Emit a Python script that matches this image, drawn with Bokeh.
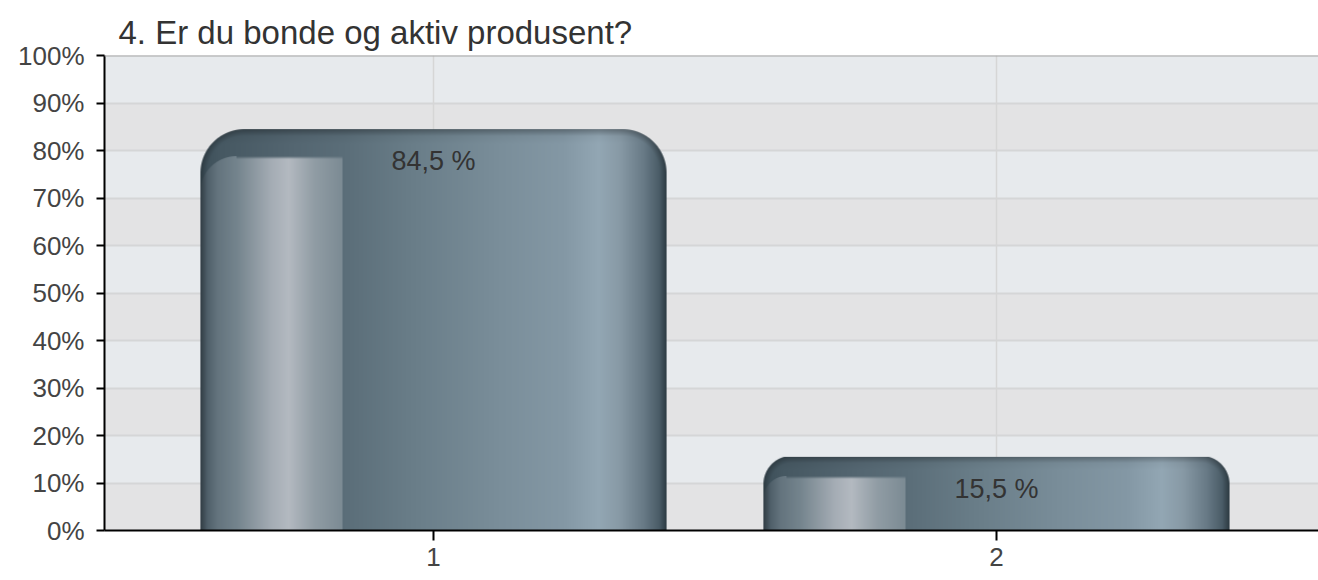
import numpy as np
from bokeh.plotting import figure
from bokeh.models import Range1d, FixedTicker, Span
from bokeh.core.properties import value
from bokeh.embed import file_html
from bokeh.resources import INLINE

# ---------------- data ----------------
title_text = "4. Er du bonde og aktiv produsent?"
categories = [1, 2]
category_labels = ["1", "2"]
percentages = [84.5, 15.5]
bar_labels = ["84,5 %", "15,5 %"]
y_ticks = [0, 10, 20, 30, 40, 50, 60, 70, 80, 90, 100]
y_tick_labels = ["0%", "10%", "20%", "30%", "40%", "50%", "60%", "70%", "80%", "90%", "100%"]

# ---------------- layout ----------------
FONT = "Liberation Sans"
FIG_W, FIG_H = 1318, 580
BORDER_L, BORDER_T, BORDER_B = 104, 55, 50
X0, X1 = 0.4156, 2.572
BAR_W = 0.828

frame_w = FIG_W - BORDER_L
frame_h = FIG_H - BORDER_T - BORDER_B
px_per_x = frame_w / (X1 - X0)
px_per_y = frame_h / 100.0


def interp_profile(f, stops):
    pos = np.array([s[0] for s in stops])
    cols = np.array([s[1] for s in stops], dtype=float)
    out = np.empty(f.shape + (3,))
    for c in range(3):
        out[..., c] = np.interp(f, pos, cols[:, c])
    return out


OUTER = [
    (0.00, (60, 78, 88)),
    (0.04, (70, 88, 98)),
    (0.20, (84, 102, 113)),
    (0.31, (91, 110, 121)),
    (0.45, (105, 125, 136)),
    (0.64, (122, 142, 154)),
    (0.78, (132, 152, 165)),
    (0.855, (147, 167, 180)),
    (0.90, (136, 154, 166)),
    (0.95, (105, 123, 135)),
    (1.00, (60, 78, 88)),
]
INNER = [
    (0.00, (66, 82, 92)),
    (0.12, (100, 116, 126)),
    (0.26, (117, 133, 142)),
    (0.50, (165, 173, 181)),
    (0.62, (180, 186, 193)),
    (0.80, (145, 157, 165)),
    (1.00, (124, 139, 148)),
]


def bar_image(wpx, hpx):
    W = max(2, int(round(wpx)))
    H = max(2, int(round(hpx)))
    X, Y = np.meshgrid(np.arange(W) + 0.5, np.arange(H) + 0.5)
    f = X / W
    rgb = interp_profile(f, OUTER)

    R = min(44.0, 0.38 * H)
    alpha = np.ones((H, W))
    dist_edge = np.minimum(np.minimum(X, W - X), Y)
    for cx in (R, W - R):
        side = (X < R) if cx == R else (X > W - R)
        region = side & (Y < R)
        d = np.sqrt((X - cx) ** 2 + (Y - R) ** 2)
        alpha[region] = np.clip(R - d[region] + 0.5, 0, 1)
        dist_edge[region] = np.maximum(R - d[region], 0)

    # inner highlight panel
    it = min(27.0, 0.27 * H)
    iR = min(36.0, 0.82 * R)
    iw = 0.305 * W
    inner_rgb = interp_profile(np.clip(X / iw, 0, 1), INNER)
    cov = ((X < iw) & (Y > it)).astype(float)
    corner = (X < iR) & (Y < it + iR) & (Y > it - 1)
    dc = np.sqrt((X - iR) ** 2 + (Y - (it + iR)) ** 2)
    cov[corner] = np.clip(iR - dc[corner] + 0.5, 0, 1)
    soft_top = (X < iw) & (Y > it) & (Y < it + 3) & ~corner
    cov[soft_top] = np.clip((Y[soft_top] - it) / 3.0, 0, 1)
    rgb = rgb * (1 - cov[..., None]) + inner_rgb * cov[..., None]

    # dark rim around the outline and slight top shading
    shade = 1 - 0.25 * np.clip(1 - dist_edge / 7.0, 0, 1)
    shade *= 1 - 0.08 * np.clip(1 - Y / 14.0, 0, 1)
    rgb = rgb * shade[..., None]

    img = np.empty((H, W), dtype=np.uint32)
    view = img.view(dtype=np.uint8).reshape((H, W, 4))
    view[..., 0] = np.clip(rgb[..., 0], 0, 255).astype(np.uint8)
    view[..., 1] = np.clip(rgb[..., 1], 0, 255).astype(np.uint8)
    view[..., 2] = np.clip(rgb[..., 2], 0, 255).astype(np.uint8)
    view[..., 3] = (alpha * 255).astype(np.uint8)
    return img[::-1].copy()


p = figure(
    width=FIG_W, height=FIG_H,
    x_range=Range1d(X0, X1), y_range=Range1d(0, 100),
    output_backend="svg", toolbar_location=None,
    min_border_left=BORDER_L, min_border_top=BORDER_T,
    min_border_bottom=BORDER_B, min_border_right=0,
    title=title_text,
)

p.background_fill_color = "#e3e3e4"
p.border_fill_color = "#ffffff"
p.outline_line_color = None

p.ygrid.band_fill_color = "#e7eaed"
p.ygrid.band_fill_alpha = 1.0
p.ygrid.grid_line_color = "#d5d6d7"
p.ygrid.grid_line_width = 2
p.xgrid.grid_line_color = "#d6d6d6"
p.xgrid.grid_line_width = 1.5
# draw the vertical grid lines after the horizontal bands
xg = p.xgrid[0]
p.center = [r for r in p.center if r is not xg] + [xg]

p.title.text_font = FONT
p.title.text_font_size = "33px"
p.title.text_font_style = "normal"
p.title.text_color = "#333333"
p.title.align = "left"
p.title.offset = 14
p.title.standoff = 10

p.yaxis.ticker = FixedTicker(ticks=y_ticks)
p.yaxis.major_label_overrides = {t: l for t, l in zip(y_ticks, y_tick_labels)}
p.xaxis.ticker = FixedTicker(ticks=categories)
p.xaxis.major_label_overrides = {c: l for c, l in zip(categories, category_labels)}

for ax in (p.xaxis[0], p.yaxis[0]):
    ax.axis_line_color = "#000000"
    ax.axis_line_width = 2
    ax.major_tick_line_color = "#000000"
    ax.major_tick_line_width = 2
    ax.major_tick_in = 0
    ax.minor_tick_out = 0
    ax.minor_tick_in = 0
    ax.major_label_text_font = FONT
    ax.major_label_text_font_size = "26px"
    ax.major_label_text_color = "#444444"
p.yaxis.major_tick_out = 8
p.yaxis.major_label_standoff = 12
p.xaxis.major_tick_out = 10
p.xaxis.major_label_standoff = 7

p.add_layout(Span(location=100, dimension="width", line_color="#a5a5a5", line_width=2))

images = [bar_image(BAR_W * px_per_x, v * px_per_y) for v in percentages]
p.image_rgba(
    image=images,
    x=[c - BAR_W / 2 for c in categories],
    y=[0] * len(categories),
    dw=[BAR_W] * len(categories),
    dh=percentages,
)

p.text(
    x=categories, y=percentages, text=bar_labels,
    text_align="center", text_baseline="middle", y_offset=32,
    text_font=value(FONT), text_font_size="27px", text_color="#333333",
)

open("out.html", "w").write(file_html(p, INLINE))
